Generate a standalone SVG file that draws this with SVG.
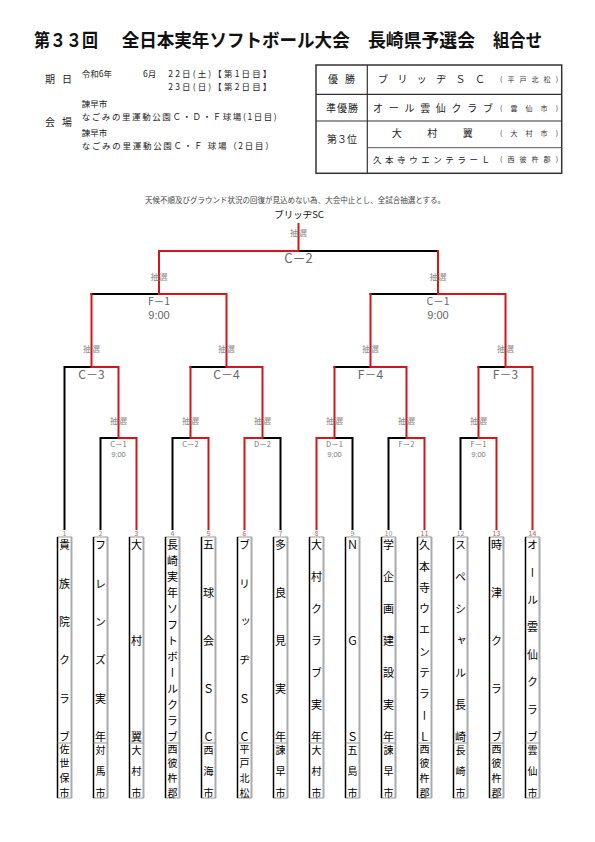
<svg xmlns="http://www.w3.org/2000/svg" width="595" height="842" viewBox="0 0 595 842">
<style>
text{font-family:"Noto Sans CJK JP","Noto Sans CJK SC",sans-serif;fill:#111}
.ttl{font-size:18.5px;font-weight:bold}
.hd{font-size:8.5px;fill:#222}
.tb{font-size:10px;fill:#222}
.tbs{font-size:7px;fill:#333}
.note{font-size:7.5px;fill:#444}
.ln{fill:none;stroke-width:2;stroke-linecap:square}
.k{stroke:#000}
.r{stroke:#d41616}
.m{font-size:12px;fill:#666;text-anchor:middle}
.m2{font-size:10.5px;fill:#666;text-anchor:middle}
.tm{font-family:"Liberation Sans",Arial,sans-serif;font-size:11px;fill:#666;text-anchor:middle}
.ms{font-size:7.5px;fill:#777;text-anchor:middle}
.tms{font-family:"Liberation Sans",Arial,sans-serif;font-size:7.5px;fill:#777;text-anchor:middle}
.ch{font-size:8.5px;fill:#888;text-anchor:middle}
.box{fill:#fff;stroke:#999;stroke-width:1}
.bl{stroke:#000;stroke-width:1.5}
.br{stroke:#aaa;stroke-width:2}
.dv{stroke:#999;stroke-width:1}
.num{font-size:7px;text-anchor:middle;fill:#888}
.nr{fill:#d05050}
.nm{font-size:11px;writing-mode:vertical-rl;fill:#000}
.rg{font-size:10px;writing-mode:vertical-rl;fill:#000}
</style>
<rect width="595" height="842" fill="#fff"/>

<g id="title">
<text class="ttl" x="34" y="46.5" textLength="64" lengthAdjust="spacingAndGlyphs">第３３回</text>
<text class="ttl" x="121.7" y="46.5" textLength="228" lengthAdjust="spacingAndGlyphs">全日本実年ソフトボール大会</text>
<text class="ttl" x="368" y="46.5" textLength="107" lengthAdjust="spacingAndGlyphs">長崎県予選会</text>
<text class="ttl" x="493" y="46.5" textLength="49" lengthAdjust="spacingAndGlyphs">組合せ</text>
</g>

<g id="info">
<text class="tb" x="45" y="83" textLength="27" lengthAdjust="spacing">期　日</text>
<text class="hd" x="81.7" y="77">令和6年</text>
<text class="hd" x="143" y="77">6月</text>
<text class="hd" x="168.3" y="77" textLength="103" lengthAdjust="spacing">22日(土)【第1日目】</text>
<text class="hd" x="168.3" y="89.5" textLength="103" lengthAdjust="spacing">23日(日)【第2日目】</text>
<text class="tb" x="45" y="125.5" textLength="27" lengthAdjust="spacing">会　場</text>
<text class="hd" x="81.7" y="107">諫早市</text>
<text class="hd" x="81.7" y="119.5" textLength="195" lengthAdjust="spacing">なごみの里運動公園Ｃ・Ｄ・Ｆ球場(1日目)</text>
<text class="hd" x="81.7" y="135.5">諫早市</text>
<text class="hd" x="81.7" y="148.5" textLength="192" lengthAdjust="spacing">なごみの里運動公園Ｃ・Ｆ 球場（2日目）</text>
</g>

<g id="results">
<rect x="316" y="65" width="245.7" height="108.3" fill="none" stroke="#333" stroke-width="1.5"/>
<line x1="367.3" y1="65" x2="367.3" y2="173.3" stroke="#333" stroke-width="1.2"/>
<line x1="316" y1="94.3" x2="561.7" y2="94.3" stroke="#333" stroke-width="1.2"/>
<line x1="316" y1="121" x2="561.7" y2="121" stroke="#333" stroke-width="1.2"/>
<line x1="367.3" y1="147.7" x2="561.7" y2="147.7" stroke="#555" stroke-width="1"/>
<text class="tb" x="328" y="83" textLength="27" lengthAdjust="spacing">優　勝</text>
<text class="tb" x="326" y="112" textLength="32" lengthAdjust="spacing">準優勝</text>
<text class="tb" x="327" y="143" textLength="30" lengthAdjust="spacing">第３位</text>
<text class="tb" x="378" y="83" textLength="107" lengthAdjust="spacing">ブリッヂＳＣ</text>
<text class="tbs" x="500" y="82" textLength="58" lengthAdjust="spacing">(平戸北松)</text>
<text class="tb" x="373" y="112" textLength="120" lengthAdjust="spacing">オール雲仙クラブ</text>
<text class="tbs" x="500" y="111" textLength="58" lengthAdjust="spacing">(雲仙市)</text>
<text class="tb" x="391.7" y="136.5" textLength="81" lengthAdjust="spacing">大村翼</text>
<text class="tbs" x="500" y="135.5" textLength="58" lengthAdjust="spacing">(大村市)</text>
<text class="tb" x="373" y="162.5" textLength="117" lengthAdjust="spacing" style="font-size:8.5px">久本寺ウエンテラーＬ</text>
<text class="tbs" x="500" y="162" textLength="58" lengthAdjust="spacing">(西彼杵郡)</text>
</g>

<g id="note">
<text class="note" x="145" y="202.5" textLength="300" lengthAdjust="spacing">天候不順及びグラウンド状況の回復が見込めない為、大会中止とし、全試合抽選とする。</text>
<text x="299" y="217.5" style="font-size:9.5px;text-anchor:middle">ブリッヂSC</text>
</g>

<g id="connectors">
<path class="ln k" d="M64.5 367V529M100.5 438V529M172.5 438V529M280.5 438V529M352.5 438V529M388.5 438V529M460.5 438V529
M100.5 438H118.5M172.5 438H190.5M262.5 438H280.5M334.5 438H352.5M388.5 438H406.5M460.5 438H478.5
M64.5 367H91.5M190.5 367H226.5M334.5 367H370.5M478.5 367H505.5
M91.5 294H159M370.5 294H438M298.5 251H438"/>
<path class="ln r" d="M136.5 438V529M208.5 438V529M244.5 438V529M316.5 438V529M424.5 438V529M496.5 438V529M532.5 367V529
M118.5 438H136.5M190.5 438H208.5M244.5 438H262.5M316.5 438H334.5M406.5 438H424.5M478.5 438H496.5
M118.5 367V438M190.5 367V438M262.5 367V438M334.5 367V438M406.5 367V438M478.5 367V438
M91.5 367H118.5M226.5 367H262.5M370.5 367H406.5M505.5 367H532.5
M91.5 294V367M226.5 294V367M370.5 294V367M505.5 294V367
M159 294H226.5M438 294H505.5M159 251V294M438 251V294
M159 251H298.5M298.5 224V251"/>
</g>

<g id="labels">
<text class="ch" x="298.5" y="236">抽選</text>
<text class="m" x="298.5" y="263" style="font-size:13px">C－2</text>
<text class="ch" x="159" y="280">抽選</text>
<text class="ch" x="438" y="280">抽選</text>
<text class="m2" x="159" y="305">F－1</text>
<text class="tm" x="159" y="319">9:00</text>
<text class="m2" x="438" y="305">C－1</text>
<text class="tm" x="438" y="319">9:00</text>
<text class="ch" x="91.5" y="352">抽選</text>
<text class="ch" x="226.5" y="352">抽選</text>
<text class="ch" x="370.5" y="352">抽選</text>
<text class="ch" x="505.5" y="352">抽選</text>
<text class="m" x="91.5" y="379">C－3</text>
<text class="m" x="226.5" y="379">C－4</text>
<text class="m" x="370.5" y="379">F－4</text>
<text class="m" x="505.5" y="379">F－3</text>
<text class="ch" x="118.5" y="424">抽選</text>
<text class="ch" x="190.5" y="424">抽選</text>
<text class="ch" x="262.5" y="424">抽選</text>
<text class="ch" x="334.5" y="424">抽選</text>
<text class="ch" x="406.5" y="424">抽選</text>
<text class="ch" x="478.5" y="424">抽選</text>
<text class="ms" x="118.5" y="446.5">C－1</text>
<text class="tms" x="118.5" y="456.5">9:00</text>
<text class="ms" x="190.5" y="446.5">C－2</text>
<text class="ms" x="262.5" y="446.5">D－2</text>
<text class="ms" x="334.5" y="446.5">D－1</text>
<text class="tms" x="334.5" y="456.5">9:00</text>
<text class="ms" x="406.5" y="446.5">F－2</text>
<text class="ms" x="478.5" y="446.5">F－1</text>
<text class="tms" x="478.5" y="456.5">9:00</text>
</g>

<g id="team1"><rect class="box" x="57.5" y="537" width="14" height="261"/><line class="bl" x1="57.5" y1="537" x2="57.5" y2="798"/><line class="br" x1="71.5" y1="537" x2="71.5" y2="798"/><line class="dv" x1="57.5" y1="743" x2="71.5" y2="743"/><text class="num" x="64.5" y="535.5">1</text><text class="nm" x="64.5" y="539.5" style="letter-spacing:27.4px">貴族院クラブ</text><text class="rg" x="64.5" y="744" style="letter-spacing:4.67px">佐世保市</text></g>
<g id="team2"><rect class="box" x="93.5" y="537" width="14" height="261"/><line class="bl" x1="93.5" y1="537" x2="93.5" y2="798"/><line class="br" x1="107.5" y1="537" x2="107.5" y2="798"/><line class="dv" x1="93.5" y1="743" x2="107.5" y2="743"/><text class="num" x="100.5" y="535.5">2</text><text class="nm" x="100.5" y="539.5" style="letter-spacing:27.4px">フレンズ実年</text><text class="rg" x="100.5" y="745" style="letter-spacing:11.5px">対馬市</text></g>
<g id="team3"><rect class="box" x="129.5" y="537" width="14" height="261"/><line class="bl" x1="129.5" y1="537" x2="129.5" y2="798"/><line class="br" x1="143.5" y1="537" x2="143.5" y2="798"/><line class="dv" x1="129.5" y1="743" x2="143.5" y2="743"/><text class="num nr" x="136.5" y="535.5">3</text><text class="nm" x="136.5" y="539.5" style="letter-spacing:85px">大村翼</text><text class="rg" x="136.5" y="745" style="letter-spacing:11.5px">大村市</text></g>
<g id="team4"><rect class="box" x="165.5" y="537" width="14" height="261"/><line class="bl" x1="165.5" y1="537" x2="165.5" y2="798"/><line class="br" x1="179.5" y1="537" x2="179.5" y2="798"/><line class="dv" x1="165.5" y1="743" x2="179.5" y2="743"/><text class="num" x="172.5" y="535.5">4</text><text class="nm" x="172.5" y="539.5" style="letter-spacing:5px">長崎実年ソフトボールクラブ</text><text class="rg" x="172.5" y="744" style="letter-spacing:4.67px">西彼杵郡</text></g>
<g id="team5"><rect class="box" x="201.5" y="537" width="14" height="261"/><line class="bl" x1="201.5" y1="537" x2="201.5" y2="798"/><line class="br" x1="215.5" y1="537" x2="215.5" y2="798"/><line class="dv" x1="201.5" y1="743" x2="215.5" y2="743"/><text class="num nr" x="208.5" y="535.5">5</text><text class="nm" x="208.5" y="539.5" style="letter-spacing:37px">五球会ＳＣ</text><text class="rg" x="208.5" y="745" style="letter-spacing:11.5px">西海市</text></g>
<g id="team6"><rect class="box" x="237.5" y="537" width="14" height="261"/><line class="bl" x1="237.5" y1="537" x2="237.5" y2="798"/><line class="br" x1="251.5" y1="537" x2="251.5" y2="798"/><line class="dv" x1="237.5" y1="743" x2="251.5" y2="743"/><text class="num nr" x="244.5" y="535.5">6</text><text class="nm" x="244.5" y="539.5" style="letter-spacing:27.4px">ブリッヂＳＣ</text><text class="rg" x="244.5" y="744" style="letter-spacing:4.67px">平戸北松</text></g>
<g id="team7"><rect class="box" x="273.5" y="537" width="14" height="261"/><line class="bl" x1="273.5" y1="537" x2="273.5" y2="798"/><line class="br" x1="287.5" y1="537" x2="287.5" y2="798"/><line class="dv" x1="273.5" y1="743" x2="287.5" y2="743"/><text class="num" x="280.5" y="535.5">7</text><text class="nm" x="280.5" y="539.5" style="letter-spacing:37px">多良見実年</text><text class="rg" x="280.5" y="745" style="letter-spacing:11.5px">諫早市</text></g>
<g id="team8"><rect class="box" x="309.5" y="537" width="14" height="261"/><line class="bl" x1="309.5" y1="537" x2="309.5" y2="798"/><line class="br" x1="323.5" y1="537" x2="323.5" y2="798"/><line class="dv" x1="309.5" y1="743" x2="323.5" y2="743"/><text class="num nr" x="316.5" y="535.5">8</text><text class="nm" x="316.5" y="539.5" style="letter-spacing:21px">大村クラブ実年</text><text class="rg" x="316.5" y="745" style="letter-spacing:11.5px">大村市</text></g>
<g id="team9"><rect class="box" x="345.5" y="537" width="14" height="261"/><line class="bl" x1="345.5" y1="537" x2="345.5" y2="798"/><line class="br" x1="359.5" y1="537" x2="359.5" y2="798"/><line class="dv" x1="345.5" y1="743" x2="359.5" y2="743"/><text class="num" x="352.5" y="535.5">9</text><text class="nm" x="352.5" y="539.5" style="letter-spacing:85px">ＮＧＳ</text><text class="rg" x="352.5" y="745" style="letter-spacing:11.5px">五島市</text></g>
<g id="team10"><rect class="box" x="381.5" y="537" width="14" height="261"/><line class="bl" x1="381.5" y1="537" x2="381.5" y2="798"/><line class="br" x1="395.5" y1="537" x2="395.5" y2="798"/><line class="dv" x1="381.5" y1="743" x2="395.5" y2="743"/><text class="num" x="388.5" y="535.5">10</text><text class="nm" x="388.5" y="539.5" style="letter-spacing:21px">学企画建設実年</text><text class="rg" x="388.5" y="745" style="letter-spacing:11.5px">諫早市</text></g>
<g id="team11"><rect class="box" x="417.5" y="537" width="14" height="261"/><line class="bl" x1="417.5" y1="537" x2="417.5" y2="798"/><line class="br" x1="431.5" y1="537" x2="431.5" y2="798"/><line class="dv" x1="417.5" y1="743" x2="431.5" y2="743"/><text class="num nr" x="424.5" y="535.5">11</text><text class="nm" x="424.5" y="539.5" style="letter-spacing:10.33px">久本寺ウエンテラーＬ</text><text class="rg" x="424.5" y="744" style="letter-spacing:4.67px">西彼杵郡</text></g>
<g id="team12"><rect class="box" x="453.5" y="537" width="14" height="261"/><line class="bl" x1="453.5" y1="537" x2="453.5" y2="798"/><line class="br" x1="467.5" y1="537" x2="467.5" y2="798"/><line class="dv" x1="453.5" y1="743" x2="467.5" y2="743"/><text class="num" x="460.5" y="535.5">12</text><text class="nm" x="460.5" y="539.5" style="letter-spacing:21px">スペシャル長崎</text><text class="rg" x="460.5" y="745" style="letter-spacing:11.5px">長崎市</text></g>
<g id="team13"><rect class="box" x="489.5" y="537" width="14" height="261"/><line class="bl" x1="489.5" y1="537" x2="489.5" y2="798"/><line class="br" x1="503.5" y1="537" x2="503.5" y2="798"/><line class="dv" x1="489.5" y1="743" x2="503.5" y2="743"/><text class="num nr" x="496.5" y="535.5">13</text><text class="nm" x="496.5" y="539.5" style="letter-spacing:37px">時津クラブ</text><text class="rg" x="496.5" y="744" style="letter-spacing:4.67px">西彼杵郡</text></g>
<g id="team14"><rect class="box" x="525.5" y="537" width="14" height="261"/><line class="bl" x1="525.5" y1="537" x2="525.5" y2="798"/><line class="br" x1="539.5" y1="537" x2="539.5" y2="798"/><line class="dv" x1="525.5" y1="743" x2="539.5" y2="743"/><text class="num nr" x="532.5" y="535.5">14</text><text class="nm" x="532.5" y="539.5" style="letter-spacing:16.43px">オール雲仙クラブ</text><text class="rg" x="532.5" y="745" style="letter-spacing:11.5px">雲仙市</text></g>
</svg>
